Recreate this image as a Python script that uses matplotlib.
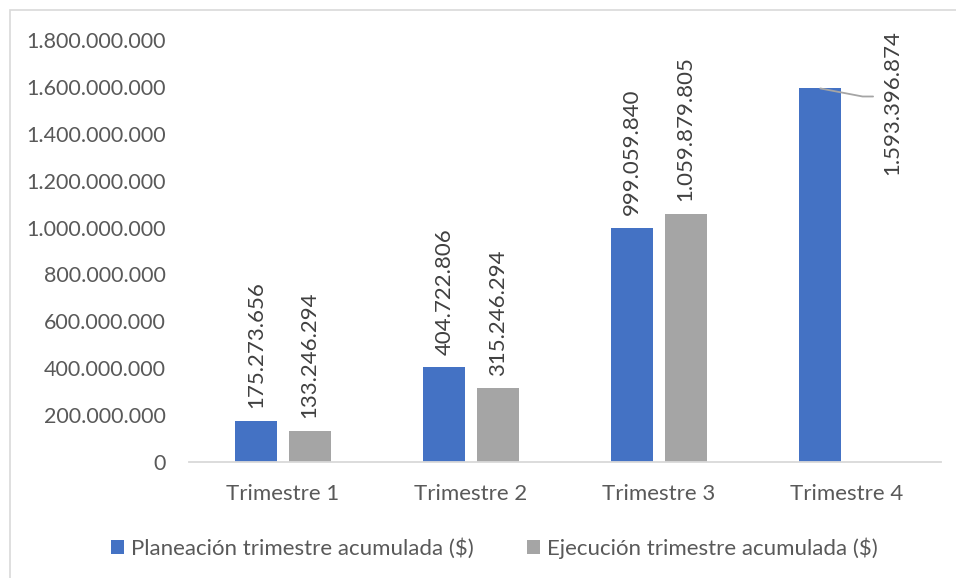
import numpy as np
import matplotlib.pyplot as plt
from matplotlib.patches import Rectangle
from matplotlib.ticker import FuncFormatter

categories = ["Trimestre 1", "Trimestre 2", "Trimestre 3", "Trimestre 4"]
planeacion = [175273656, 404722806, 999059840, 1593396874]
ejecucion = [133246294, 315246294, 1059879805, np.nan]
series_names = ["Planeación trimestre acumulada ($)", "Ejecución trimestre acumulada ($)"]

blue = "#4472c4"
gray = "#a5a5a5"
text_col = "#595959"
label_col = "#404040"

plt.rcParams["font.family"] = ["Lato", "DejaVu Sans"]


def fmt_num(v):
    return f"{int(round(v)):,}".replace(",", ".")


fig = plt.figure(figsize=(9.56, 5.78), dpi=100)
fig.patches.append(Rectangle((10 / 956, -0.01), 1.0, 1 - 10 / 578 + 0.01,
                             transform=fig.transFigure, fill=False,
                             edgecolor="#d9d9d9", linewidth=1.2))

ax = fig.add_axes([189 / 956, 1 - 462 / 578, (941 - 189) / 956, (462 - 40) / 578])

x = np.arange(len(categories))
w = 0.223
off = 0.142
b1 = ax.bar(x - off, planeacion, w, color=blue, label=series_names[0])
b2 = ax.bar(x + off, ejecucion, w, color=gray, label=series_names[1])

ax.set_xlim(-0.5, len(categories) - 0.5)
ax.set_ylim(0, 1.8e9)
ax.set_yticks(np.arange(0, 1.8e9 + 1, 2e8))
ax.yaxis.set_major_formatter(FuncFormatter(lambda v, p: fmt_num(v)))
ax.set_xticks(x)
ax.set_xticklabels(categories)
ax.tick_params(axis="both", length=0, colors=text_col)
ax.tick_params(axis="y", labelsize=15.5, pad=16.5)
ax.tick_params(axis="x", labelsize=16, pad=16)

for s in ["top", "right", "left"]:
    ax.spines[s].set_visible(False)
ax.spines["bottom"].set_color("#d9d9d9")
ax.spines["bottom"].set_linewidth(1.3)

# data labels
last = len(categories) - 1
for i in range(len(categories)):
    for xs, vals in ((x - off, planeacion), (x + off, ejecucion)):
        v = vals[i]
        if np.isnan(v):
            continue
        if i == last:
            # label moved to the right of the bar, with a leader line
            ax.annotate(fmt_num(v), xy=(xs[i], v), xytext=(52, 42),
                        textcoords="offset points", rotation=90,
                        ha="center", va="top", fontsize=16, color=label_col)
            ax.annotate("", xy=(xs[i], v), xytext=(38, -5.8),
                        textcoords="offset points",
                        arrowprops=dict(arrowstyle="-", color="#a5a5a5", lw=1.3,
                                        shrinkA=0, shrinkB=0,
                                        connectionstyle="angle,angleA=0,angleB=-10.8,rad=0"))
        else:
            ax.annotate(fmt_num(v), xy=(xs[i], v), xytext=(0, 9),
                        textcoords="offset points", rotation=90,
                        ha="center", va="bottom", fontsize=16, color=label_col)

fig.legend(handles=[b1, b2], labels=series_names, loc="center",
           bbox_to_anchor=(0.517, 1 - 548 / 578), ncol=2, frameon=False,
           fontsize=16, labelcolor=text_col, handlelength=0.6, handleheight=0.6,
           handletextpad=0.3, columnspacing=2.4)

fig.savefig("out.png", dpi=100)
